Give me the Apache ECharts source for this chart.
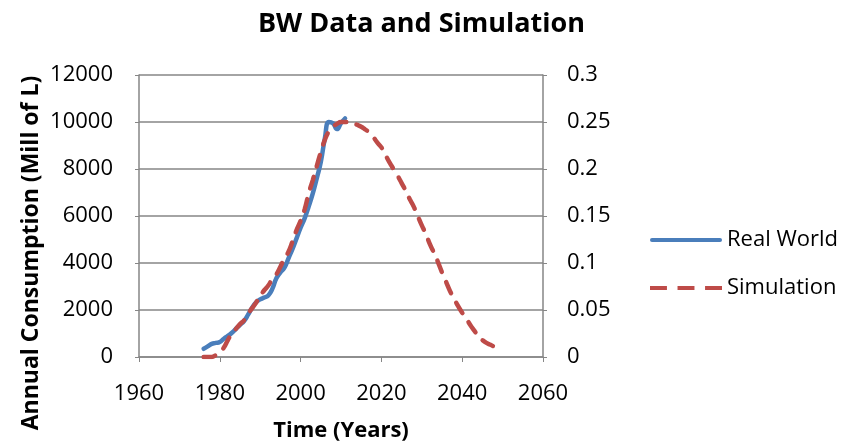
<!DOCTYPE html>
<html>
<head>
<meta charset="utf-8">
<script src="https://cdn.jsdelivr.net/npm/echarts@6/dist/echarts.min.js"></script>
<style>
  html, body { margin: 0; padding: 0; background: #fff; }
  #chart { width: 843px; height: 447px; }
</style>
</head>
<body>
<div id="chart"></div>
<script>
// Real World consumption (Mill of L), by year
const realYears = [1976, 1977, 1978, 1979, 1980, 1981, 1982, 1983, 1984, 1985, 1986, 1987,
  1988, 1989, 1990, 1991, 1992, 1993, 1994, 1995, 1996, 1997, 1998, 1999, 2000, 2001,
  2002, 2003, 2004, 2005, 2006, 2007, 2008, 2009, 2010, 2011];
const realValues = [350, 450, 560, 600, 640, 780, 900, 1030, 1200, 1370, 1530, 1800,
  2100, 2330, 2450, 2530, 2620, 2900, 3350, 3600, 3800, 4200, 4600, 5050, 5500, 5900,
  6400, 6950, 7600, 8300, 9300, 10000, 9950, 9700, 9950, 10150];

// Simulation (right axis), yearly from simStart
const simStart = 1976;
const simValues = [0, 0, 0, 0.002, 0.005, 0.010, 0.018, 0.025, 0.030, 0.035, 0.039, 0.046,
  0.052, 0.058, 0.065, 0.071, 0.076, 0.083, 0.088, 0.096, 0.105, 0.112, 0.123, 0.135,
  0.145, 0.157, 0.174, 0.188, 0.203, 0.218, 0.231, 0.240, 0.245, 0.248, 0.250, 0.250,
  0.250, 0.249, 0.247, 0.245, 0.242, 0.239, 0.234, 0.228, 0.223, 0.215, 0.207, 0.200,
  0.193, 0.185, 0.177, 0.168, 0.160, 0.150, 0.140, 0.131, 0.120, 0.111, 0.101, 0.090,
  0.080, 0.070, 0.062, 0.054, 0.047, 0.041, 0.034, 0.028, 0.022, 0.018, 0.015, 0.013,
  0.011, 0.010];

const chart = echarts.init(document.getElementById("chart"));
const font = "'Open Sans', sans-serif";
const axisGray = "#868686";

const option = {
  animation: false,
  textStyle: { fontFamily: font },
  title: {
    text: "BW Data and Simulation",
    left: "center",
    top: 6,
    textStyle: { fontSize: 27, fontWeight: "bold", color: "#000", fontFamily: font }
  },
  // y axis title placed as rotated text (it sits lower than the plot centre)
  graphic: [{
    type: "text",
    x: 31,
    y: 253,
    rotation: Math.PI / 2,
    style: {
      text: "Annual Consumption (Mill of L)",
      font: "bold 23px 'Open Sans', sans-serif",
      fill: "#000",
      align: "center",
      verticalAlign: "middle"
    }
  }],
  grid: { left: 139, right: 300, top: 75, bottom: 90, outerBoundsMode: "none", containLabel: false },
  legend: {
    orient: "vertical",
    left: 645,
    top: 223,
    itemWidth: 72,
    itemHeight: 14,
    itemGap: 24,
    textStyle: { fontSize: 22, lineHeight: 24, color: "#000", fontFamily: font },
    data: [
      { name: "Real World", icon: "path://M2,0 L70,0 A2,2 0 0 1 70,4 L2,4 A2,2 0 0 1 2,0 Z" },
      { name: "Simulation", icon: "path://M0,0h16v4h-16z M26,0h16v4h-16z M52,0h16v4h-16z" }
    ]
  },
  xAxis: {
    type: "value",
    min: 1960,
    max: 2060,
    interval: 20,
    name: "Time (Years)",
    nameLocation: "middle",
    nameGap: 63,
    nameTextStyle: { fontSize: 22, fontWeight: "bold", color: "#000" },
    axisLine: { show: true, lineStyle: { color: axisGray, width: 1.5 } },
    axisTick: { show: true, length: 5, lineStyle: { color: axisGray } },
    axisLabel: { fontSize: 22, color: "#000", margin: 26, formatter: v => String(v) },
    splitLine: { show: false }
  },
  yAxis: [
    {
      type: "value",
      min: 0,
      max: 12000,
      interval: 2000,
      axisLine: { show: true, lineStyle: { color: axisGray, width: 1.5 } },
      axisTick: { show: true, length: 4, lineStyle: { color: axisGray } },
      axisLabel: { fontSize: 22, color: "#000", margin: 26, formatter: v => String(v) },
      splitLine: { show: true, lineStyle: { color: axisGray, width: 1.5 } }
    },
    {
      type: "value",
      min: 0,
      max: 0.3,
      interval: 0.05,
      position: "right",
      axisLine: { show: true, lineStyle: { color: axisGray, width: 1.5 } },
      axisTick: { show: true, length: 4, lineStyle: { color: axisGray } },
      axisLabel: { fontSize: 22, color: "#000", margin: 24, formatter: v => String(+v.toFixed(2)) },
      splitLine: { show: false }
    }
  ],
  series: [
    {
      name: "Real World",
      type: "line",
      yAxisIndex: 0,
      smooth: true,
      showSymbol: false,
      symbol: "none",
      color: "#4a7ebb",
      lineStyle: { width: 4.5, color: "#4a7ebb", cap: "round", join: "round" },
      data: realYears.map((y, i) => [y, realValues[i]])
    },
    {
      name: "Simulation",
      type: "line",
      yAxisIndex: 1,
      smooth: true,
      showSymbol: false,
      symbol: "none",
      color: "#be4b48",
      lineStyle: { width: 4.5, color: "#be4b48", type: [12, 11], cap: "round" },
      data: simValues.map((v, i) => [simStart + i, v])
    }
  ]
};

chart.setOption(option);
</script>
</body>
</html>
